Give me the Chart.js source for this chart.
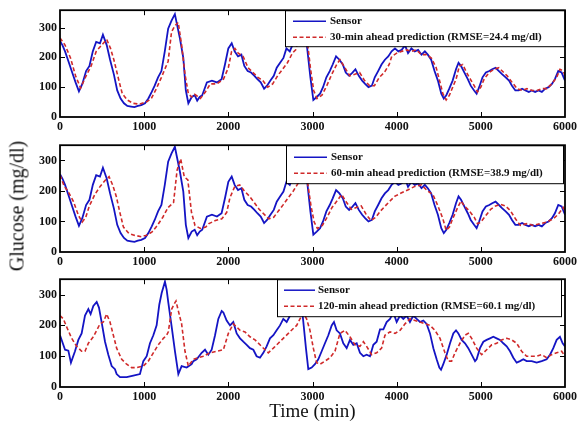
<!DOCTYPE html>
<html><head><meta charset="utf-8">
<script src="https://cdn.jsdelivr.net/npm/chart.js@4.4.0/dist/chart.umd.min.js"></script>
<style>
html,body{margin:0;padding:0;background:#fff;width:580px;height:423px;overflow:hidden;position:relative;}
canvas{position:absolute;left:0;}
#ylab{position:absolute;left:17px;top:206px;transform:translate(-50%,-50%) rotate(-90deg);font:20px "Liberation Serif",serif;white-space:nowrap;color:#111;}
</style></head><body>
<canvas id="p1" width="580" height="135" style="top:0"></canvas>
<canvas id="p2" width="580" height="135" style="top:135px"></canvas>
<canvas id="p3" width="580" height="154" style="top:269px"></canvas>
<div id="ylab">Glucose (mg/dl)</div>
<script>
// ---------- data ----------
const xTickValues = [0,1000,2000,3000,4000,5000,6000];
const yTickValues = [0,100,200,300];
const legendLabels = [
  ["Sensor","30-min ahead prediction (RMSE=24.4 mg/dl)"],
  ["Sensor","60-min ahead prediction (RMSE=38.9 mg/dl)"],
  ["Sensor","120-min ahead prediction (RMSE=60.1 mg/dl)"]
];

// sensor (panels 1 and 2)
const sensorTime = [0,30,60,100,145,185,225,265,310,350,390,430,475,510,555,595,640,680,720,760,800,845,885,925,965,1010,1050,1090,1125,1165,1205,1245,1285,1325,1365,1385,1425,1465,1495,1525,1565,1600,1630,1660,1690,1745,1805,1865,1920,1960,2000,2040,2075,2115,2155,2190,2230,2270,2310,2345,2385,2425,2460,2500,2540,2575,2615,2655,2690,2730,2770,2820,2870,2900,2935,2975,3010,3050,3090,3125,3165,3205,3240,3280,3320,3360,3395,3435,3475,3510,3550,3590,3625,3665,3705,3740,3780,3820,3860,3900,3940,3980,4020,4060,4100,4135,4175,4215,4255,4295,4335,4370,4410,4450,4490,4530,4560,4590,4625,4665,4705,4735,4765,4805,4845,4880,4920,4950,4980,5020,5060,5100,5135,5175,5215,5255,5295,5335,5370,5410,5450,5490,5530,5570,5605,5645,5685,5725,5765,5805,5845,5880,5920,5960,6000];
const sensorGlucose = [255,240,220,187,149,116,86,111,154,171,220,252,247,276,241,192,143,89,62,46,37,35,33,37,40,46,62,84,105,133,154,220,296,323,345,317,263,198,89,46,67,73,55,67,73,116,122,116,127,176,230,247,220,203,209,171,154,149,138,127,116,95,105,122,138,165,182,198,230,220,247,280,320,330,235,133,57,67,78,100,133,154,176,203,192,176,149,138,149,160,138,122,111,100,105,133,154,176,192,203,220,230,220,225,240,214,230,220,225,209,220,209,192,154,122,78,62,73,95,122,160,182,171,149,127,105,89,78,100,133,149,154,160,165,154,143,133,122,105,89,89,95,89,84,89,84,89,84,95,100,111,127,154,149,122];

// 30-min ahead prediction (panel 1)
const pred30Time = [0,60,125,185,245,310,370,430,495,555,600,640,700,740,800,865,945,1030,1085,1145,1205,1245,1285,1325,1365,1405,1445,1485,1525,1565,1600,1668,1727,1786,1864,1942,2000,2039,2078,2117,2176,2234,2293,2351,2410,2468,2527,2585,2644,2702,2761,2800,2850,2920,2975,3014,3053,3112,3170,3229,3287,3326,3385,3443,3502,3560,3619,3677,3736,3794,3853,3911,3941,4000,4059,4118,4176,4235,4294,4353,4412,4470,4510,4549,4588,4627,4666,4706,4745,4784,4823,4862,4921,4960,5000,5039,5098,5156,5215,5254,5313,5372,5431,5490,5548,5607,5666,5725,5784,5843,5901,5940,5980,6000];
const pred30Glucose = [265,241,198,138,97,138,171,220,241,260,230,192,122,78,57,46,43,51,62,95,133,160,187,285,306,317,241,143,78,67,76,62,84,111,111,127,165,220,230,214,203,165,149,133,122,100,111,138,160,182,214,225,275,300,165,89,62,73,105,143,176,192,165,138,143,149,122,105,105,133,149,176,203,214,220,225,220,225,209,209,198,165,122,78,57,73,100,127,171,176,154,133,105,84,100,127,149,160,165,154,138,116,95,89,95,89,89,95,95,111,133,160,154,138];

// 60-min ahead prediction (panel 2)
const pred60Time = [0,51,94,157,221,264,306,349,413,477,540,583,625,668,711,753,817,881,966,1030,1094,1157,1221,1285,1349,1391,1434,1476,1519,1562,1604,1668,1732,1769,1846,1923,1981,2019,2077,2135,2193,2250,2308,2366,2424,2481,2539,2597,2655,2712,2770,2828,2880,2920,2943,2982,3020,3059,3117,3174,3232,3290,3347,3405,3463,3521,3579,3636,3694,3752,3810,3902,3980,4059,4137,4216,4294,4372,4431,4490,4549,4588,4627,4666,4725,4764,4804,4862,4921,4960,5000,5058,5117,5176,5235,5294,5352,5411,5470,5548,5627,5705,5784,5862,5921,5980,6000];
const pred60Glucose = [252,215,199,167,119,98,114,151,188,215,236,247,220,183,130,82,61,55,50,55,66,87,114,146,162,268,305,247,236,130,87,77,82,93,103,109,130,178,215,220,199,183,162,140,124,109,114,135,156,178,199,225,260,270,225,151,98,77,87,114,146,167,188,162,140,146,151,124,103,114,135,162,183,194,204,215,220,199,188,151,109,71,82,109,146,167,151,135,114,93,98,119,140,151,156,151,135,109,87,93,87,93,98,109,124,146,135];

// sensor as drawn in panel 3
const sensor3Time = [0,60,99,130,178,218,257,297,337,364,396,436,463,495,535,574,614,653,673,713,792,871,950,990,1030,1069,1109,1148,1180,1208,1247,1267,1287,1327,1366,1406,1445,1505,1564,1584,1624,1683,1723,1762,1802,1842,1881,1921,1941,1980,2020,2059,2099,2139,2178,2218,2257,2297,2336,2376,2416,2455,2495,2535,2574,2614,2653,2693,2733,2780,2830,2865,2891,2922,2950,2990,3029,3069,3109,3148,3188,3228,3255,3287,3326,3366,3406,3445,3485,3525,3564,3604,3643,3683,3723,3762,3802,3842,3881,3921,3960,4000,4040,4079,4119,4158,4198,4238,4277,4317,4356,4396,4436,4475,4507,4527,4554,4594,4634,4673,4705,4733,4772,4812,4851,4891,4931,4950,4990,5030,5069,5109,5148,5188,5228,5267,5307,5347,5386,5426,5465,5505,5544,5604,5663,5723,5782,5822,5861,5901,5940,5972,6000];
const sensor3Glucose = [168,121,118,79,116,153,174,232,253,237,263,276,258,210,147,105,68,58,42,32,32,37,42,84,100,142,168,200,268,305,342,316,274,195,116,42,68,63,74,84,90,111,121,105,121,168,221,247,242,216,200,211,174,158,147,137,126,121,100,95,111,132,158,168,184,200,221,211,232,265,300,280,211,126,58,63,74,90,116,142,168,200,211,184,174,142,126,153,137,142,111,100,105,100,137,147,187,187,211,221,242,211,232,221,232,211,232,221,211,216,205,174,126,90,63,56,74,105,142,174,184,174,153,142,126,105,84,90,126,147,153,158,163,158,153,142,132,116,95,79,84,90,84,84,79,84,90,105,126,153,163,142,132];

// 120-min ahead prediction (panel 3)
const pred120Time = [0,40,79,139,198,257,297,337,396,436,475,515,554,594,634,673,733,792,851,911,990,1049,1109,1168,1228,1267,1287,1327,1366,1378,1406,1445,1485,1525,1584,1643,1703,1782,1861,1941,2000,2059,2099,2139,2198,2257,2317,2376,2436,2475,2535,2594,2653,2713,2772,2812,2851,2891,2930,2970,3010,3049,3089,3148,3208,3267,3326,3386,3445,3505,3564,3604,3643,3703,3762,3821,3861,3921,3980,4040,4099,4158,4218,4277,4337,4396,4455,4515,4574,4614,4653,4693,4752,4812,4851,4891,4950,5010,5069,5129,5188,5247,5307,5366,5426,5485,5544,5604,5663,5723,5782,5841,5901,5960,6000];
const pred120Glucose = [232,221,195,158,132,116,116,142,163,184,205,211,237,211,168,126,90,74,63,63,68,84,111,137,158,168,179,253,274,279,247,205,116,68,90,95,100,111,116,121,174,205,195,184,179,163,153,137,121,111,126,142,158,174,190,200,221,240,221,184,126,79,74,84,95,116,174,184,163,137,132,147,132,105,111,126,168,179,174,184,205,221,216,211,205,200,184,158,111,84,84,111,142,168,174,158,126,105,121,137,142,153,158,153,142,116,100,100,100,105,95,105,111,116,100];

// ---------- drawing ----------
const FONT = '"Liberation Serif", "Times New Roman", serif';
const SENSOR_COLOR = '#1414c4';
const PRED_COLOR = '#d02a2a';
const DASH = [4, 2.5];

function pts(t, v) { return t.map((x, i) => ({x: x, y: v[i]})); }

const panelPlugin = {
  id: 'panel',
  afterDatasetsDraw(chart, args, opts) {
    const ctx = chart.ctx, a = chart.chartArea, xs = chart.scales.x, ys = chart.scales.y;
    ctx.save();
    ctx.strokeStyle = '#000';
    ctx.lineWidth = 1;
    ctx.setLineDash([]);
    const seg = (x1, y1, x2, y2) => { ctx.beginPath(); ctx.moveTo(x1, y1); ctx.lineTo(x2, y2); ctx.stroke(); };
    xs.ticks.forEach(t => {
      if (t.value <= xs.min || t.value >= xs.max) return;
      const p = Math.round(xs.getPixelForValue(t.value)) + 0.5;
      seg(p, a.bottom, p, a.bottom - 5); seg(p, a.top, p, a.top + 5);
    });
    ys.ticks.forEach(t => {
      if (t.value <= ys.min || t.value >= ys.max) return;
      const p = Math.round(ys.getPixelForValue(t.value)) + 0.5;
      seg(a.left, p, a.left + 5, p); seg(a.right, p, a.right - 5, p);
    });
    // legend box
    const L = opts.legend;
    const left = L.left, right = a.right - L.rightInset, top = a.top, bottom = a.top + L.height;
    ctx.fillStyle = '#fff';
    ctx.fillRect(left, top, right - left, bottom - top);
    ctx.lineWidth = 1;
    ctx.strokeRect(left + 0.5, top + 0.5, right - left, bottom - top);
    const rows = [top + L.row1, top + L.row2];
    ctx.lineWidth = 1.5;
    ctx.strokeStyle = SENSOR_COLOR;
    seg(left + L.s0, rows[0], left + L.s1, rows[0]);
    ctx.strokeStyle = PRED_COLOR;
    ctx.setLineDash(DASH);
    seg(left + L.s0, rows[1], left + L.s1, rows[1]);
    ctx.setLineDash([]);
    ctx.fillStyle = '#111';
    ctx.font = 'bold 11px ' + FONT;
    ctx.textBaseline = 'middle';
    ctx.textAlign = 'left';
    ctx.fillText(L.labels[0], left + L.tx, rows[0]);
    ctx.fillText(L.labels[1], left + L.tx, rows[1]);
    ctx.restore();
  },
  afterDraw(chart) {
    const ctx = chart.ctx, a = chart.chartArea;
    ctx.save();
    ctx.strokeStyle = '#000';
    ctx.lineWidth = 1.8;
    ctx.strokeRect(a.left, a.top, a.right - a.left, a.bottom - a.top);
    ctx.restore();
  }
};

function makeChart(id, sT, sV, pT, pV, yMax, legend, xAxisH, withTitle) {
  return new Chart(document.getElementById(id), {
    type: 'line',
    data: {
      datasets: [
        {data: pts(pT, pV), borderColor: PRED_COLOR, borderWidth: 1.6, borderDash: DASH, pointRadius: 0, tension: 0, fill: false},
        {data: pts(sT, sV), borderColor: SENSOR_COLOR, borderWidth: 1.8, pointRadius: 0, tension: 0, fill: false}
      ]
    },
    options: {
      responsive: false,
      animation: false,
      events: [],
      layout: {padding: {left: 0, right: 15, top: 7, bottom: 0}},
      plugins: {legend: {display: false}, tooltip: {enabled: false}, panel: {legend: legend}},
      scales: {
        x: {
          type: 'linear', min: 0, max: 6000,
          afterBuildTicks: s => { s.ticks = xTickValues.map(v => ({value: v})); },
          ticks: {color: '#111', font: {family: FONT, size: 12, weight: 'bold'}, padding: 3, maxRotation: 0, callback: v => String(v)},
          grid: {display: false, drawTicks: false},
          border: {display: false},
          title: withTitle ? {display: true, text: 'Time (min)', color: '#111', font: {family: FONT, size: 19}, padding: {top: 0, bottom: 0}} : {display: false},
          afterFit: s => { s.height = xAxisH; }
        },
        y: {
          min: 0, max: yMax,
          afterBuildTicks: s => { s.ticks = yTickValues.map(v => ({value: v})); },
          ticks: {color: '#111', font: {family: FONT, size: 12, weight: 'bold'}, padding: 3, callback: v => String(v)},
          grid: {display: false, drawTicks: false},
          border: {display: false},
          afterFit: s => { s.width = 60; }
        }
      }
    },
    plugins: [panelPlugin]
  });
}

makeChart('p1', sensorTime, sensorGlucose, pred30Time, pred30Glucose, 358,
  {left: 285, rightInset: 0, height: 36, row1: 11, row2: 27, s0: 8, s1: 41, tx: 45, labels: legendLabels[0]}, 18, false);
makeChart('p2', sensorTime, sensorGlucose, pred60Time, pred60Glucose, 350,
  {left: 286, rightInset: 2, height: 38, row1: 12, row2: 28, s0: 8, s1: 41, tx: 45, labels: legendLabels[1]}, 18, false);
makeChart('p3', sensor3Time, sensor3Glucose, pred120Time, pred120Glucose, 350,
  {left: 277, rightInset: 4, height: 37, row1: 11, row2: 27, s0: 7, s1: 38, tx: 41, labels: legendLabels[2]}, 36, true);
</script>
</body></html>
